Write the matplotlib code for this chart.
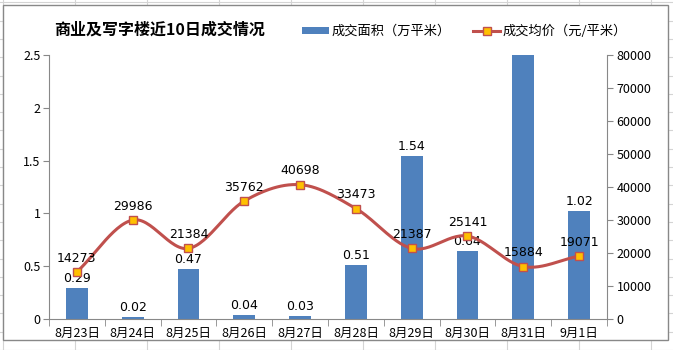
import numpy as np
import matplotlib.pyplot as plt
from matplotlib.patches import Rectangle
from matplotlib.lines import Line2D

plt.rcParams['font.family'] = ['Noto Sans CJK SC', 'DejaVu Sans']

dates = ["8月23日", "8月24日", "8月25日", "8月26日", "8月27日",
         "8月28日", "8月29日", "8月30日", "8月31日", "9月1日"]
area = [0.29, 0.02, 0.47, 0.04, 0.03, 0.51, 1.54, 0.64, 2.70, 1.02]
price = [14273, 29986, 21384, 35762, 40698, 33473, 21387, 25141, 15884, 19071]

W, H = 673, 350
fig = plt.figure(figsize=(W / 100, H / 100), dpi=100)
fig.patch.set_facecolor("white")

# worksheet grid behind the chart object
for gx in np.arange(3, W, 72):
    fig.add_artist(Line2D([gx / W, gx / W], [0, 1], color="#d4d4d4", lw=0.8, zorder=0))
for gy in np.arange(0, H, 18.3):
    fig.add_artist(Line2D([0, 1], [gy / H, gy / H], color="#d4d4d4", lw=0.8, zorder=0))
fig.add_artist(Rectangle((3 / W, (H - 340) / H), 665 / W, 335 / H,
                         facecolor="white", edgecolor="#888888", lw=1.0, zorder=1))

ax = fig.add_axes([49 / W, (H - 319) / H, 558 / W, 264 / H], zorder=2)
ax.patch.set_visible(False)
x = np.arange(len(dates))

bars = ax.bar(x, area, width=0.39, color="#4F81BD", zorder=2)
ax.set_ylim(0, 2.5)
ax.set_xlim(-0.5, len(dates) - 0.5)
ax.set_yticks([0, 0.5, 1, 1.5, 2, 2.5])
ax.set_yticklabels(["0", "0.5", "1", "1.5", "2", "2.5"])
for xi, v in zip(x, area):
    if v <= 2.5:
        ax.text(xi, v + 0.03, f"{v:.2f}", ha="center", va="bottom",
                fontsize=9, family="DejaVu Sans", zorder=5)

ax.set_xticks(x)
ax.set_xticklabels(dates, fontsize=9)
ax.set_xticks(np.arange(-0.5, len(dates)), minor=True)
ax.tick_params(axis="x", which="major", length=0, pad=6)
ax.tick_params(axis="x", which="minor", length=5, color="#888888")
ax.tick_params(axis="y", length=4, color="#888888", labelsize=9, pad=2)
for s in ["top", "right"]:
    ax.spines[s].set_visible(False)
for s in ["left", "bottom"]:
    ax.spines[s].set_color("#888888")

ax2 = ax.twinx()
ax2.set_zorder(3)
ax2.set_ylim(0, 80000)
ax2.set_yticks(np.arange(0, 80001, 10000))
ax2.tick_params(axis="y", length=4, color="#888888", labelsize=9, pad=3)
for s in ["top", "left", "bottom"]:
    ax2.spines[s].set_visible(False)
ax2.spines["right"].set_color("#888888")

# smoothed price curve (Catmull-Rom through each point)
px = np.array(x, dtype=float)
py = np.array(price, dtype=float)
ext_x = np.concatenate([[2 * px[0] - px[1]], px, [2 * px[-1] - px[-2]]])
ext_y = np.concatenate([[2 * py[0] - py[1]], py, [2 * py[-1] - py[-2]]])
cx, cy = [], []
t = np.linspace(0, 1, 30)
for i in range(1, len(ext_x) - 2):
    p0, p1, p2, p3 = [np.array([ext_x[j], ext_y[j]]) for j in range(i - 1, i + 3)]
    seg = 0.5 * ((2 * p1)[:, None] + (-p0 + p2)[:, None] * t
                 + (2 * p0 - 5 * p1 + 4 * p2 - p3)[:, None] * t ** 2
                 + (-p0 + 3 * p1 - 3 * p2 + p3)[:, None] * t ** 3)
    cx.extend(seg[0])
    cy.extend(seg[1])
ax2.plot(cx, cy, color="#C0504D", lw=2.2, zorder=3)
ax2.plot(px, py, ls="none", marker="s", ms=6, mfc="#FFC000",
         mec="#C0504D", mew=1.0, zorder=4)
for xi, v in zip(px, price):
    ax2.text(xi, v + 2200, str(v), ha="center", va="bottom",
             fontsize=9, family="DejaVu Sans", zorder=5)

fig.text(160 / W, (H - 30) / H, "商业及写字楼近10日成交情况", ha="center",
         va="center", fontsize=11.5, fontweight="bold")

# legend
fig.add_artist(Rectangle((302 / W, (H - 34) / H), 27 / W, 7 / H,
                         facecolor="#4F81BD", edgecolor="none", zorder=4))
fig.text(332 / W, (H - 31) / H, "成交面积（万平米）", ha="left", va="center", fontsize=9.5)
fig.add_artist(Line2D([473 / W, 500 / W], [(H - 31) / H] * 2, color="#C0504D",
                      lw=2.2, zorder=4))
fig.add_artist(Line2D([486.5 / W], [(H - 31) / H], ls="none", marker="s", ms=6,
                      mfc="#FFC000", mec="#C0504D", mew=1.0, zorder=5))
fig.text(503 / W, (H - 31) / H, "成交均价（元/平米）", ha="left", va="center", fontsize=9.5)

fig.savefig("out.png", dpi=100, facecolor="white")
